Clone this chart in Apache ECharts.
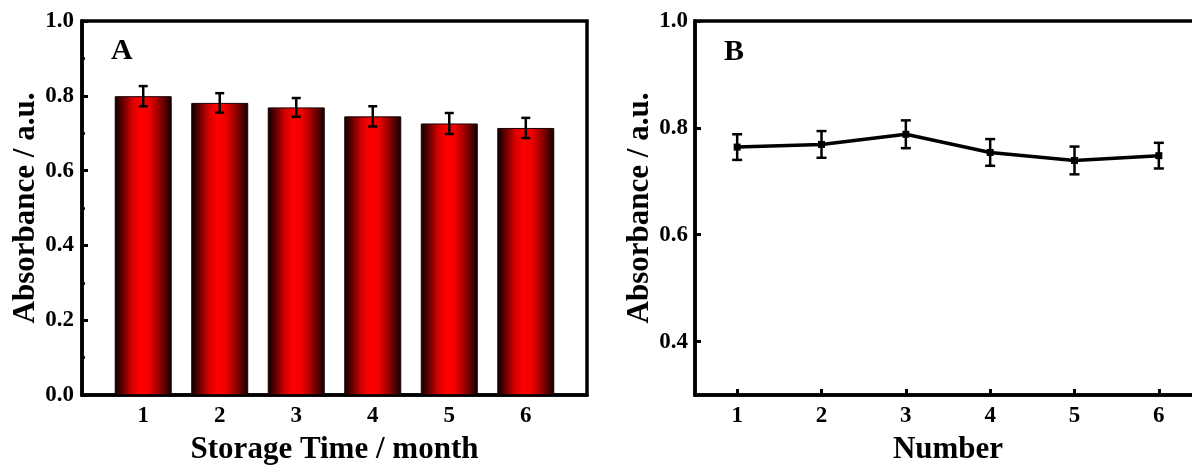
<!DOCTYPE html>
<html>
<head>
<meta charset="utf-8">
<script src="https://cdn.jsdelivr.net/npm/echarts@6/dist/echarts.min.js"></script>
<style>
html,body{margin:0;padding:0;background:#fff;}
#chart{width:1192px;height:468px;}
</style>
</head>
<body>
<div id="chart"></div>
<script>
// ---- Data ----
const storageMonths = [1, 2, 3, 4, 5, 6];
const absorbanceA = [0.799, 0.781, 0.769, 0.745, 0.726, 0.714];
const errorA = [0.027, 0.026, 0.025, 0.027, 0.028, 0.027];

const numbersB = [1, 2, 3, 4, 5, 6];
const absorbanceB = [0.764, 0.769, 0.788, 0.754, 0.739, 0.748];
const errorB = [0.024, 0.025, 0.026, 0.025, 0.026, 0.024];

const yTicksB = [0.4, 0.6, 0.8, 1.0];
const yMinorB = [0.5, 0.7, 0.9];

const xTitleA = 'Storage Time / month';
const xTitleB = 'Number';
const yTitle = 'Absorbance / a.u.';
const panelA = 'A';
const panelB = 'B';

// ---- Styles ----
const FONT = '"Liberation Serif", "Times New Roman", serif';
const labelStyle = { fontFamily: FONT, fontWeight: 'bold', fontSize: 23, color: '#000' };
const titleStyle = { fontFamily: FONT, fontWeight: 'bold', fontSize: 31, color: '#000' };
const AX_W = 3.5;

function errRender(capHalf) {
  return function (params, api) {
    const x = api.value(0);
    const lo = api.coord([x, api.value(1)]);
    const hi = api.coord([x, api.value(2)]);
    const st = { stroke: '#000', lineWidth: 2.5 };
    return {
      type: 'group',
      children: [
        { type: 'line', shape: { x1: lo[0], y1: lo[1], x2: hi[0], y2: hi[1] }, style: st },
        { type: 'line', shape: { x1: lo[0] - capHalf, y1: lo[1], x2: lo[0] + capHalf, y2: lo[1] }, style: st },
        { type: 'line', shape: { x1: hi[0] - capHalf, y1: hi[1], x2: hi[0] + capHalf, y2: hi[1] }, style: st }
      ]
    };
  };
}

const barGradient = new echarts.graphic.LinearGradient(0, 0, 1, 0, [
  { offset: 0, color: '#0a0000' },
  { offset: 0.12, color: '#550000' },
  { offset: 0.3, color: '#d40000' },
  { offset: 0.45, color: '#ff0000' },
  { offset: 0.6, color: '#f20000' },
  { offset: 0.8, color: '#8a0000' },
  { offset: 1, color: '#0d0000' }
]);

const chart = echarts.init(document.getElementById('chart'), null, { renderer: 'canvas' });

const option = {
  animation: false,
  backgroundColor: '#fff',
  grid: [
    { left: 82, top: 21, width: 505, height: 374, show: true, borderColor: '#000', borderWidth: AX_W, containLabel: false, outerBoundsMode: 'none' },
    { left: 695, top: 21, width: 506, height: 374, show: true, borderColor: '#000', borderWidth: AX_W, containLabel: false, outerBoundsMode: 'none' }
  ],
  xAxis: [
    {
      type: 'value', gridIndex: 0, min: 0.2, max: 6.8,
      axisLine: { show: true, lineStyle: { color: '#000', width: AX_W } },
      axisTick: { show: true, inside: true, length: 6, lineStyle: { color: '#000', width: 3 }, customValues: storageMonths },
      axisLabel: Object.assign({ margin: 10, customValues: storageMonths }, labelStyle),
      splitLine: { show: false },
      name: xTitleA, nameLocation: 'middle', nameGap: 39, nameTextStyle: titleStyle
    },
    {
      type: 'value', gridIndex: 1, min: 0.5, max: 6.5,
      axisLine: { show: true, lineStyle: { color: '#000', width: AX_W } },
      axisTick: { show: true, inside: true, length: 6, lineStyle: { color: '#000', width: 3 }, customValues: numbersB },
      axisLabel: Object.assign({ margin: 10, customValues: numbersB }, labelStyle),
      splitLine: { show: false },
      name: xTitleB, nameLocation: 'middle', nameGap: 39, nameTextStyle: titleStyle
    }
  ],
  yAxis: [
    {
      type: 'value', gridIndex: 0, min: 0, max: 1, interval: 0.2,
      axisLine: { show: true, lineStyle: { color: '#000', width: AX_W } },
      axisTick: { show: true, inside: true, length: 6, lineStyle: { color: '#000', width: 3 } },
      minorTick: { show: true, splitNumber: 2, length: 3, lineStyle: { color: '#000', width: 2.5 } },
      axisLabel: Object.assign({ margin: 8, formatter: v => v.toFixed(1) }, labelStyle),
      splitLine: { show: false },
      name: yTitle, nameLocation: 'middle', nameGap: 33, nameRotate: 90, nameTextStyle: titleStyle
    },
    {
      type: 'value', gridIndex: 1, min: 0.3, max: 1.0,
      axisLine: { show: true, lineStyle: { color: '#000', width: AX_W } },
      axisTick: { show: true, inside: true, length: 6, lineStyle: { color: '#000', width: 3 }, customValues: yTicksB },
      axisLabel: Object.assign({ margin: 7, customValues: yTicksB, formatter: v => Number(v).toFixed(1) }, labelStyle),
      splitLine: { show: false },
      name: yTitle, nameLocation: 'middle', nameGap: 40, nameRotate: 90, nameTextStyle: titleStyle
    },
    {
      type: 'value', gridIndex: 1, min: 0.3, max: 1.0,
      axisLine: { show: false },
      axisTick: { show: true, inside: true, length: 3, lineStyle: { color: '#000', width: 2.5 }, customValues: yMinorB },
      axisLabel: { show: false, customValues: yMinorB },
      splitLine: { show: false }
    }
  ],
  graphic: [
    { type: 'text', left: 111, top: 36, style: { text: panelA, font: 'bold 30px ' + FONT, fill: '#000' } },
    { type: 'text', left: 724, top: 37, style: { text: panelB, font: 'bold 30px ' + FONT, fill: '#000' } }
  ],
  series: [
    {
      type: 'bar', xAxisIndex: 0, yAxisIndex: 0,
      barWidth: 57,
      data: storageMonths.map((m, i) => [m, absorbanceA[i]]),
      itemStyle: { color: barGradient, borderColor: '#1a0000', borderWidth: 1 },
      z: 2
    },
    {
      type: 'custom', xAxisIndex: 0, yAxisIndex: 0,
      renderItem: errRender(4.5),
      data: storageMonths.map((m, i) => [m, absorbanceA[i] - errorA[i], absorbanceA[i] + errorA[i]]),
      encode: { x: 0, y: [1, 2] },
      z: 10
    },
    {
      type: 'line', xAxisIndex: 1, yAxisIndex: 1,
      data: numbersB.map((n, i) => [n, absorbanceB[i]]),
      symbol: 'rect', symbolSize: 7,
      itemStyle: { color: '#000' },
      lineStyle: { color: '#000', width: 3.5 },
      z: 5
    },
    {
      type: 'custom', xAxisIndex: 1, yAxisIndex: 1,
      renderItem: errRender(5),
      data: numbersB.map((n, i) => [n, absorbanceB[i] - errorB[i], absorbanceB[i] + errorB[i]]),
      encode: { x: 0, y: [1, 2] },
      z: 10
    }
  ]
};
chart.setOption(option);
</script>
</body>
</html>
